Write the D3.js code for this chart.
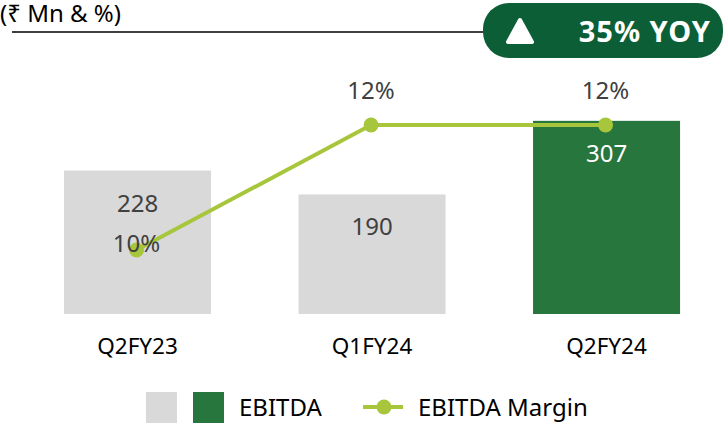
<!DOCTYPE html>
<meta charset="utf-8">
<style>
    body { margin: 0; background: #fff; }
    svg { display: block; font-family: 'Noto Sans', 'Open Sans', sans-serif; }
</style>
<body>
    <div id="chart"></div>

    <script src="https://d3js.org/d3.v7.min.js"></script>

    <script>
        // EBITDA by quarter (Rs Mn) and EBITDA margin (%)
        var quarters = ['Q2FY23', 'Q1FY24', 'Q2FY24']
        var ebitda = [228, 190, 307]
        var margin = [10, 12, 12]
        var barColors = ['#d9d9d9', '#d9d9d9', '#27763d']
        var labelColors = ['#404040', '#404040', '#ffffff']
        var marginLabelPlace = ['on', 'above', 'above']
        var unitLabel = '(₹ Mn & %)'
        var badgeText = '35% YOY'

        var width = 725
        var height = 429
        var lineColor = '#a8c63c'

        var svg = d3.select('#chart')
            .append('svg')
            .attr('width', width)
            .attr('height', height)

        var x = d3.scaleBand()
            .domain(quarters)
            .range([20.3, 723.8])
            .paddingInner(0.373)
            .paddingOuter(0.1865)

        var y = d3.scaleLinear()
            .domain([0, 350])
            .range([314, 93.8])

        var y2 = d3.scaleLinear()
            .domain([8, 14])
            .range([375, 0])

        // header: unit + rule + badge
        svg.append('text')
            .attr('x', 0)
            .attr('y', 22)
            .style('font-size', '24px')
            .style('fill', '#000')
            .text(unitLabel)

        svg.append('line')
            .attr('x1', 12)
            .attr('x2', 490)
            .attr('y1', 32)
            .attr('y2', 32)
            .style('stroke', '#000')
            .style('stroke-width', 1.5)

        svg.append('rect')
            .attr('x', 483)
            .attr('y', 3)
            .attr('width', 240)
            .attr('height', 55)
            .attr('rx', 26)
            .style('fill', '#0b5e35')

        svg.append('path')
            .attr('d', 'M520,20 L532,42 L508,42 Z')
            .style('fill', '#fff')
            .style('stroke', '#fff')
            .style('stroke-width', 4)
            .style('stroke-linejoin', 'round')

        svg.append('text')
            .attr('x', 711)
            .attr('y', 42)
            .attr('text-anchor', 'end')
            .style('font-size', '29px')
            .style('font-weight', 'bold')
            .style('letter-spacing', '1px')
            .style('fill', '#fff')
            .text(badgeText)

        // bars
        svg.selectAll('rect.bar')
            .data(ebitda)
            .enter()
            .append('rect')
            .attr('class', 'bar')
            .attr('x', function (d, i) { return x(quarters[i]) })
            .attr('width', x.bandwidth())
            .attr('y', function (d) { return y(d) })
            .attr('height', function (d) { return y(0) - y(d) })
            .style('fill', function (d, i) { return barColors[i] })

        svg.selectAll('text.val')
            .data(ebitda)
            .enter()
            .append('text')
            .attr('class', 'val')
            .attr('x', function (d, i) { return x(quarters[i]) + x.bandwidth() / 2 })
            .attr('y', function (d) { return y(d) + 41 })
            .attr('text-anchor', 'middle')
            .style('font-size', '24px')
            .style('fill', function (d, i) { return labelColors[i] })
            .text(function (d) { return d })

        // x axis labels
        var xAxis = d3.axisBottom(x).tickSize(0).tickPadding(24)
        var gx = svg.append('g')
            .attr('transform', 'translate(0,' + y(0) + ')')
            .call(xAxis)
        gx.select('.domain').remove()
        gx.selectAll('text')
            .style('font-family', "'Noto Sans', 'Open Sans', sans-serif")
            .style('font-size', '22.5px')
            .style('fill', '#000')

        // margin line
        var cx = function (d, i) { return x(quarters[i]) + x.bandwidth() / 2 - 1 }
        var line = d3.line()
            .x(cx)
            .y(function (d) { return y2(d) })

        svg.append('path')
            .datum(margin)
            .attr('d', line)
            .style('fill', 'none')
            .style('stroke', lineColor)
            .style('stroke-width', 4)

        svg.selectAll('circle.pt')
            .data(margin)
            .enter()
            .append('circle')
            .attr('class', 'pt')
            .attr('cx', cx)
            .attr('cy', function (d) { return y2(d) })
            .attr('r', 7.5)
            .style('fill', lineColor)

        svg.selectAll('text.pct')
            .data(margin)
            .enter()
            .append('text')
            .attr('class', 'pct')
            .attr('x', cx)
            .attr('y', function (d, i) { return y2(d) + (marginLabelPlace[i] === 'on' ? 2 : -26) })
            .attr('text-anchor', 'middle')
            .style('font-size', '24px')
            .style('fill', '#404040')
            .text(function (d) { return d + '%' })

        // legend
        var lg = svg.append('g')
        lg.append('rect')
            .attr('x', 146).attr('y', 392).attr('width', 31).attr('height', 31)
            .style('fill', barColors[0])
        lg.append('rect')
            .attr('x', 193).attr('y', 392).attr('width', 31).attr('height', 31)
            .style('fill', barColors[2])
        lg.append('text')
            .attr('x', 239).attr('y', 416)
            .style('font-size', '24px')
            .style('fill', '#000')
            .text('EBITDA')
        lg.append('line')
            .attr('x1', 363).attr('x2', 403).attr('y1', 407).attr('y2', 407)
            .style('stroke', lineColor)
            .style('stroke-width', 4)
        lg.append('circle')
            .attr('cx', 384).attr('cy', 407).attr('r', 7.5)
            .style('fill', lineColor)
        lg.append('text')
            .attr('x', 418).attr('y', 416)
            .style('font-size', '24px')
            .style('fill', '#000')
            .text('EBITDA Margin')
    </script>
</body>
